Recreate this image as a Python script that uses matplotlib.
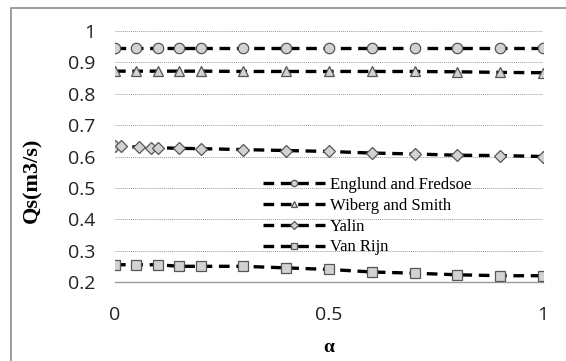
import matplotlib
matplotlib.use('Agg')
from matplotlib import pyplot as plt
from matplotlib.patches import Rectangle

# alpha values for each series
alpha = [0, 0.05, 0.1, 0.15, 0.2, 0.3, 0.4, 0.5, 0.6, 0.7, 0.8, 0.9, 1.0]
alpha_yalin = [0, 0.015, 0.055, 0.085, 0.1, 0.15, 0.2, 0.3, 0.4, 0.5, 0.6, 0.7, 0.8, 0.9, 1.0]

# sediment discharge Qs (m3/s)
qs_engelund = [0.945, 0.945, 0.945, 0.945, 0.945, 0.945, 0.945, 0.945, 0.945, 0.945, 0.945, 0.945, 0.945]
qs_wiberg = [0.872, 0.872, 0.872, 0.872, 0.872, 0.871, 0.871, 0.871, 0.871, 0.871, 0.870, 0.868, 0.867]
qs_yalin = [0.633, 0.632, 0.630, 0.628, 0.628, 0.626, 0.625, 0.622, 0.619, 0.616, 0.611, 0.608, 0.604, 0.603, 0.600]
qs_vanrijn = [0.255, 0.255, 0.255, 0.250, 0.250, 0.250, 0.245, 0.240, 0.232, 0.228, 0.223, 0.220, 0.220]

fig = plt.figure(figsize=(5.66, 3.61), dpi=100)
ax = fig.add_axes([115/566, 79/361, 428/566, 251/361])

# outer frame around the chart
fig.patches.append(Rectangle((11/566, -0.1), 1.2, (353/361) + 0.1, transform=fig.transFigure,
                             fill=False, edgecolor='#8c8c8c', linewidth=1.2))

style = dict(color='black', linestyle=(0, (3.2, 2)), linewidth=2.4,
             markerfacecolor='#d2d2d2', markeredgecolor='#555555', markeredgewidth=0.9, markersize=7.5)

ax.plot(alpha, qs_engelund, marker='o', label='Englund and Fredsoe', **style)
ax.plot(alpha, qs_wiberg, marker='^', label='Wiberg and Smith', **style)
ax.plot(alpha_yalin, qs_yalin, marker='D', label='Yalin', **dict(style, markersize=6.5))
ax.plot(alpha, qs_vanrijn, marker='s', label='Van Rijn', **style)

ax.set_xlim(0, 1)
ax.set_ylim(0.2, 1.0)
ax.set_xticks([0, 0.5, 1])
ax.set_xticklabels(['0', '0.5', '1'])
ax.set_yticks([0.2, 0.3, 0.4, 0.5, 0.6, 0.7, 0.8, 0.9, 1.0])
ax.set_yticklabels(['0.2', '0.3', '0.4', '0.5', '0.6', '0.7', '0.8', '0.9', '1'])

for lab in ax.get_xticklabels() + ax.get_yticklabels():
    lab.set_family('Open Sans')
    lab.set_fontsize(14)
    lab.set_color('#222222')
ax.tick_params(axis='x', length=0, pad=17)
ax.tick_params(axis='y', length=0, pad=14)

ax.grid(axis='y', linestyle=(0, (1, 1)), color='#9a9a9a', linewidth=0.7)
ax.set_axisbelow(True)
for side in ['top', 'right', 'left']:
    ax.spines[side].set_visible(False)
ax.spines['bottom'].set_color('#9a9a9a')
ax.spines['bottom'].set_linewidth(1.0)
ax.spines['bottom'].set_zorder(0.5)

ax.set_xlabel('α', family='Liberation Serif', fontweight='bold', fontsize=14, va='center')
ax.xaxis.set_label_coords(0.5, -0.262)
ax.set_ylabel('Qs(m3/s)', family='Liberation Serif', fontweight='bold', fontsize=16)
ax.yaxis.set_label_coords(-0.17, 0.406)

leg = ax.legend(loc='upper left', bbox_to_anchor=(0.33, 0.445), frameon=False,
                prop={'family': 'Liberation Serif', 'size': 12},
                markerscale=0.6, handlelength=3.7, handletextpad=0.3, labelspacing=0.29,
                borderaxespad=0)

fig.savefig('out.png', dpi=100)
